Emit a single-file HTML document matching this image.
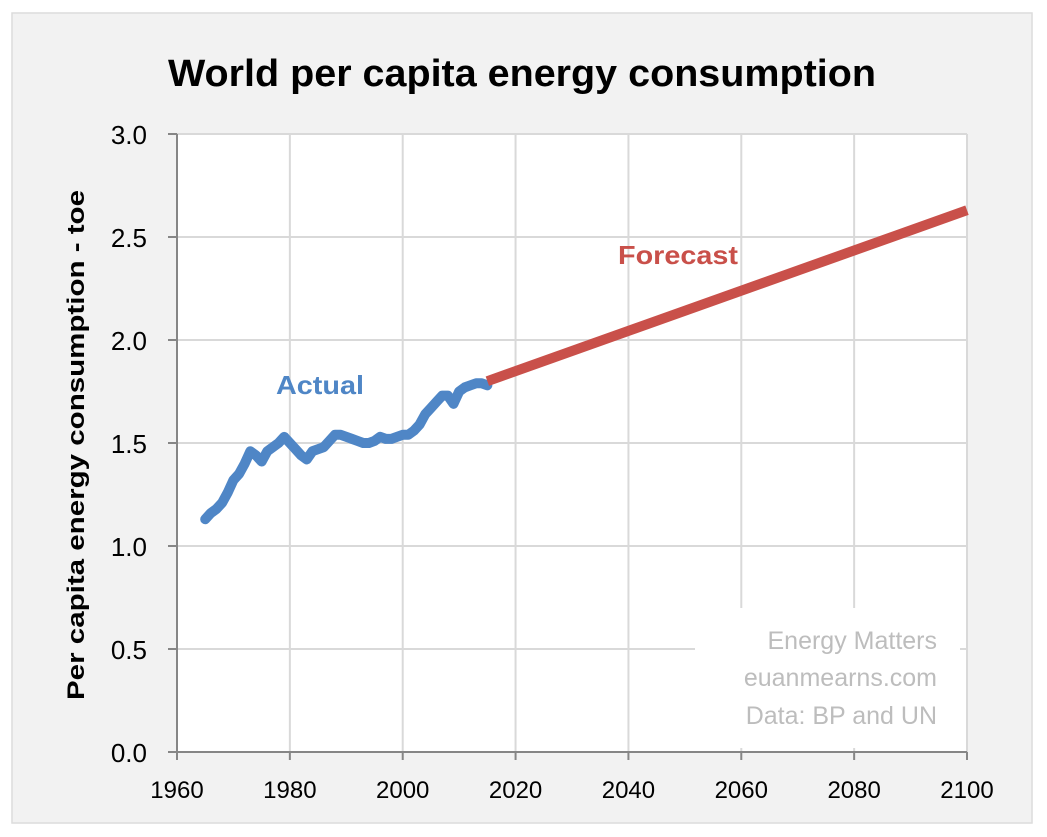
<!DOCTYPE html>
<html><head><meta charset="utf-8"><style>
html,body{margin:0;padding:0;background:#fff;}
body{width:1047px;height:832px;overflow:hidden;font-family:"Liberation Sans",sans-serif;}
</style></head><body>
<svg id="chart" width="1047" height="832" xmlns="http://www.w3.org/2000/svg">
<rect x="12" y="13" width="1020" height="810" fill="#f2f2f2" stroke="#dcdcdc" stroke-width="1.5"/>
<text x="168" y="86" textLength="708" lengthAdjust="spacingAndGlyphs" font-size="38" font-weight="bold" fill="#000">World per capita energy consumption</text>
<rect x="177" y="134" width="790" height="618" fill="#fff"/>
<g id="grid"></g>
<rect x="695" y="608" width="265" height="140" fill="#fff"/>
<g id="axes"></g>
<g id="series"></g>
<text x="276" y="394" textLength="88" lengthAdjust="spacingAndGlyphs" font-size="26" font-weight="bold" fill="#4f86c6">Actual</text>
<text x="618" y="264" textLength="120" lengthAdjust="spacingAndGlyphs" font-size="26" font-weight="bold" fill="#c9504a">Forecast</text>
<g font-size="25" fill="#bdbdbd" text-anchor="end">
<text x="937" y="649">Energy Matters</text>
<text x="937" y="686">euanmearns.com</text>
<text x="937" y="724">Data: BP and UN</text>
</g>
<text transform="translate(84,700) rotate(-90)" textLength="510" lengthAdjust="spacingAndGlyphs" font-size="24" font-weight="bold" fill="#000">Per capita energy consumption - toe</text>
</svg>
<script>
const xTicks=[1960,1980,2000,2020,2040,2060,2080,2100];
const yTicks=[0,0.5,1.0,1.5,2.0,2.5,3.0];
const actualYears=[1965,1966,1967,1968,1969,1970,1971,1972,1973,1974,1975,1976,1977,1978,1979,1980,1981,1982,1983,1984,1985,1986,1987,1988,1989,1990,1991,1992,1993,1994,1995,1996,1997,1998,1999,2000,2001,2002,2003,2004,2005,2006,2007,2008,2009,2010,2011,2012,2013,2014,2015];
const actualValues=[1.13,1.16,1.18,1.21,1.26,1.32,1.35,1.40,1.46,1.44,1.41,1.46,1.48,1.50,1.53,1.50,1.47,1.44,1.42,1.46,1.47,1.48,1.51,1.54,1.54,1.53,1.52,1.51,1.50,1.50,1.51,1.53,1.52,1.52,1.53,1.54,1.54,1.56,1.59,1.64,1.67,1.70,1.73,1.73,1.69,1.75,1.77,1.78,1.79,1.79,1.78];
const forecastYears=[2015,2100];
const forecastValues=[1.80,2.63];
const NS="http://www.w3.org/2000/svg";
const X=v=>177+(v-1960)/140*790;
const Y=v=>752-v/3*618;
function mk(t,a,p){const e=document.createElementNS(NS,t);for(const k in a)e.setAttribute(k,a[k]);p.appendChild(e);return e;}
const grid=document.getElementById('grid'),axes=document.getElementById('axes'),series=document.getElementById('series');
xTicks.forEach(t=>{
  if(t>1960){const l=mk('line',{x1:X(t),x2:X(t),y1:134,y2:752,stroke:'#d9d9d9','stroke-width':2},grid);
  
  }
  mk('line',{x1:X(t),x2:X(t),y1:752,y2:760,stroke:'#868686','stroke-width':2},axes);
  const tx=mk('text',{x:X(t),y:798,'text-anchor':'middle','font-size':24,fill:'#000'},axes);
  tx.textContent=t;
  
  
});
yTicks.forEach(t=>{
  if(t>0){const l=mk('line',{x1:177,x2:967,y1:Y(t),y2:Y(t),stroke:'#d9d9d9','stroke-width':2},grid);
  
  }
  mk('line',{x1:168,x2:177,y1:Y(t),y2:Y(t),stroke:'#868686','stroke-width':2},axes);
  const tx=mk('text',{x:147,y:Y(t)+10,'text-anchor':'end','font-size':26,fill:'#000'},axes);
  tx.textContent=t.toFixed(1);
  
  
});
mk('line',{x1:177,x2:177,y1:134,y2:752,stroke:'#868686','stroke-width':2},axes);
mk('line',{x1:177,x2:967,y1:752,y2:752,stroke:'#868686','stroke-width':2},axes);
const pa=mk('polyline',{points:actualYears.map((y,i)=>X(y)+','+Y(actualValues[i])).join(' '),fill:'none',stroke:'#4f86c6','stroke-width':10,'stroke-linejoin':'round','stroke-linecap':'round'},series);


const pf=mk('polyline',{points:forecastYears.map((y,i)=>X(y)+','+Y(forecastValues[i])).join(' '),fill:'none',stroke:'#c9504a','stroke-width':10},series);


</script>
</body></html>
